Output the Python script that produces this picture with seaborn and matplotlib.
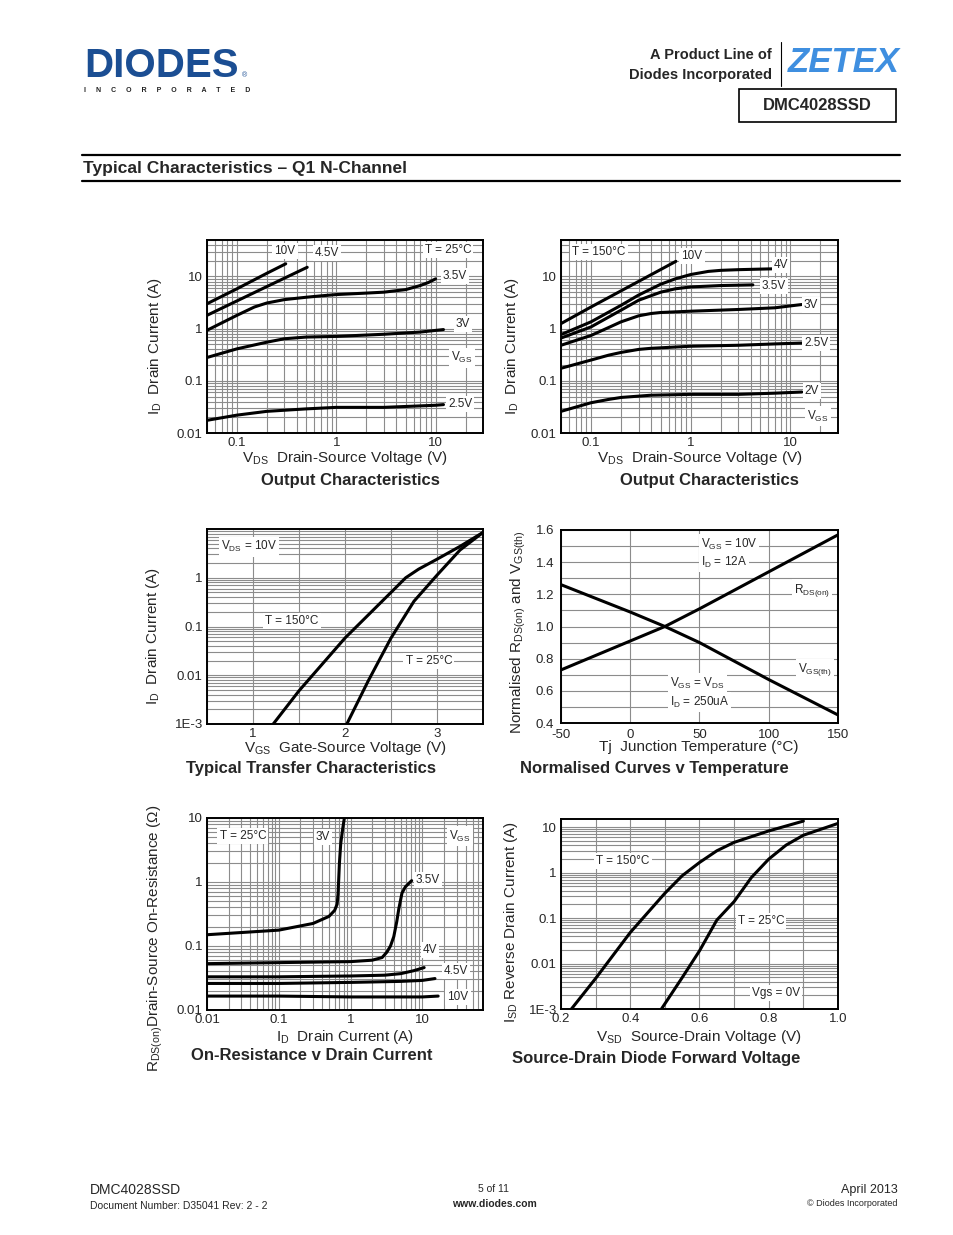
import numpy as np
import pandas as pd
import matplotlib
matplotlib.use("Agg")
import matplotlib.pyplot as plt
import matplotlib.ticker as mticker
from matplotlib.patches import Rectangle
from matplotlib.lines import Line2D
import seaborn as sns

# ---- data ----
# output characteristics, T = 25C  (VDS in V, ID in A)
o25_10v_x = [0.05, 0.1, 0.2, 0.31]
o25_10v_y = [3.0, 5.8, 11.5, 17.5]
o25_45v_x = [0.05, 0.1, 0.2, 0.51]
o25_45v_y = [1.8, 3.4, 6.4, 15.0]
o25_35v_x = [0.05, 0.1, 0.15, 0.2, 0.3, 0.5, 0.7, 1, 2, 3, 5, 7, 8.5, 10]
o25_35v_y = [0.93, 1.8, 2.6, 3.1, 3.6, 4.0, 4.25, 4.5, 4.8, 5.0, 5.6, 6.7, 7.7, 9.0]
o25_3v_x = [0.05, 0.1, 0.2, 0.3, 0.5, 1, 3, 7, 12]
o25_3v_y = [0.28, 0.41, 0.55, 0.64, 0.69, 0.71, 0.78, 0.86, 0.96]
o25_25v_x = [0.05, 0.1, 0.2, 0.5, 1, 3, 10, 12]
o25_25v_y = [0.0175, 0.022, 0.026, 0.029, 0.031, 0.031, 0.034, 0.035]

# output characteristics, T = 150C
o150_10v_x = [0.05, 0.1, 0.2, 0.4, 0.71]
o150_10v_y = [1.25, 2.6, 5.3, 10.8, 19.5]
o150_4v_x = [0.05, 0.1, 0.2, 0.3, 0.5, 0.7, 1, 1.5, 2, 3, 6.5]
o150_4v_y = [0.77, 1.35, 2.8, 4.4, 7.1, 9.0, 10.9, 12.5, 13.1, 13.5, 14.0]
o150_35v_x = [0.05, 0.1, 0.2, 0.3, 0.5, 0.7, 1, 2, 4.2]
o150_35v_y = [0.66, 1.08, 2.26, 3.5, 5.0, 5.8, 6.3, 6.7, 6.9]
o150_3v_x = [0.05, 0.1, 0.15, 0.2, 0.3, 0.4, 0.5, 1, 3, 7, 13]
o150_3v_y = [0.48, 0.74, 1.05, 1.35, 1.76, 1.95, 2.04, 2.16, 2.33, 2.51, 2.9]
o150_25v_x = [0.05, 0.1, 0.15, 0.2, 0.3, 0.4, 1, 3, 7, 13]
o150_25v_y = [0.174, 0.25, 0.31, 0.35, 0.40, 0.42, 0.46, 0.48, 0.51, 0.53]
o150_2v_x = [0.05, 0.1, 0.15, 0.2, 0.4, 1, 3, 7, 13]
o150_2v_y = [0.026, 0.038, 0.044, 0.048, 0.053, 0.055, 0.055, 0.058, 0.061]

# transfer characteristics (VGS in V, ID in A)
tr150_x = [1.22, 1.5, 2.0, 2.5, 2.66, 2.8, 3.0, 3.25, 3.5]
tr150_y = [0.001, 0.0048, 0.058, 0.5, 1.0, 1.5, 2.4, 4.4, 8.5]
tr25_x = [2.02, 2.25, 2.5, 2.75, 3.0, 3.25, 3.5]
tr25_y = [0.001, 0.0075, 0.058, 0.33, 1.13, 3.7, 8.5]

# normalised curves v temperature
tj = [-50, 0, 25, 50, 100, 150]
rds_norm = [0.73, 0.91, 1.0, 1.11, 1.34, 1.57]
vth_norm = [1.26, 1.09, 1.0, 0.90, 0.67, 0.45]

# on-resistance v drain current (ID in A, RDS in ohm)
r3v_x = [0.01, 0.1, 0.3, 0.5, 0.6, 0.65, 0.67, 0.7, 0.73, 0.78, 0.82]
r3v_y = [0.15, 0.177, 0.225, 0.29, 0.36, 0.45, 0.66, 2.0, 4.0, 7.0, 10.0]
r35v_x = [0.01, 0.1, 1, 2, 2.75, 3.2, 3.6, 4.0, 4.4, 4.7, 5.2, 5.8, 7.1]
r35v_y = [0.053, 0.055, 0.057, 0.06, 0.066, 0.08, 0.1, 0.14, 0.24, 0.38, 0.67, 0.84, 1.05]
r4v_x = [0.01, 0.1, 1, 3, 5, 7.5, 10.6]
r4v_y = [0.033, 0.033, 0.034, 0.035, 0.037, 0.041, 0.046]
r45v_x = [0.01, 0.1, 1, 5, 10, 15]
r45v_y = [0.026, 0.026, 0.027, 0.028, 0.029, 0.031]
r10v_x = [0.01, 0.1, 1, 10, 16.6]
r10v_y = [0.0165, 0.0165, 0.016, 0.016, 0.0165]

# source-drain diode forward voltage (VSD in V, ISD in A)
sd150_x = [0.23, 0.3, 0.4, 0.5, 0.55, 0.6, 0.65, 0.7, 0.8, 0.9]
sd150_y = [0.001, 0.0047, 0.048, 0.35, 0.85, 1.66, 3.0, 4.6, 8.2, 13.5]
sd25_x = [0.49, 0.55, 0.6, 0.65, 0.7, 0.75, 0.8, 0.85, 0.9, 1.0]
sd25_y = [0.001, 0.0049, 0.019, 0.09, 0.23, 0.78, 1.97, 4.0, 6.6, 12.0]

log_ticks = [0.001, 0.01, 0.1, 1, 10]
log_labels = ['1E-3', '0.01', '0.1', '1', '10']

# ---- style ----
sns.set_style("white")
plt.rcParams['font.family'] = ['Liberation Sans', 'DejaVu Sans']
plt.rcParams['mathtext.default'] = 'regular'
plt.rcParams['axes.unicode_minus'] = False

W, H = 954, 1235
fig = plt.figure(figsize=(W / 100, H / 100), dpi=100)
GRID = '#8c8c8c'
TICK_FS = 9.5
ANN_FS = 8.5
LAB_FS = 11
SUB_FS = 12


def px_axes(x0, y0, x1, y1):
    return fig.add_axes([x0 / W, 1 - y1 / H, (x1 - x0) / W, (y1 - y0) / H])


def ftext(x, y, s, **kw):
    fig.text(x / W, 1 - y / H, s, **kw)


def draw_curves(ax, curves):
    rows = []
    for name, xs, ys in curves:
        rows.append(pd.DataFrame({'x': xs, 'y': ys, 'curve': name}))
    df = pd.concat(rows, ignore_index=True)
    sns.lineplot(data=df, x='x', y='y', units='curve', estimator=None,
                 sort=False, color='black', linewidth=2.2, ax=ax, zorder=3)
    ax.set_xlabel('')
    ax.set_ylabel('')


def style_axes(ax):
    for s in ax.spines.values():
        s.set_linewidth(1.4)
        s.set_color('black')
        s.set_zorder(5)
    ax.tick_params(which='both', length=0, labelsize=TICK_FS, pad=3)
    ax.grid(True, which='both', color=GRID, linewidth=0.8)
    ax.set_axisbelow(True)


def log_axis(axis):
    axis.set_major_locator(mticker.FixedLocator(log_ticks))
    axis.set_major_formatter(mticker.FixedFormatter(log_labels))
    axis.set_minor_locator(mticker.LogLocator(base=10, subs=np.arange(2, 10), numticks=20))
    axis.set_minor_formatter(mticker.NullFormatter())


def ann(ax, fx, fy, s, ha='center'):
    ax.text(fx, fy, s, transform=ax.transAxes, ha=ha, va='center', fontsize=ANN_FS,
            zorder=4, bbox=dict(fc='white', ec='none', pad=1.5))


# ---- header ----
ftext(84, 77, 'DIODES', fontsize=29, fontweight='heavy', color='#1b4e93', va='baseline', ha='left')
ftext(242, 76, '\u00ae', fontsize=5, color='#1b4e93', va='center', ha='left')
ftext(84, 90, 'I     N     C     O     R     P     O     R     A     T     E     D', fontsize=5,
      fontweight='bold', color='#222222', va='center', ha='left')
ftext(772, 55, 'A Product Line of', fontsize=10.5, fontweight='bold', ha='right', va='center')
ftext(772, 75, 'Diodes Incorporated', fontsize=10.5, fontweight='bold', ha='right', va='center')
fig.add_artist(Line2D([781 / W, 781 / W], [1 - 42 / H, 1 - 86 / H], color='black', lw=0.8))
ftext(844, 62, 'ZETEX', fontsize=25, fontweight='bold', style='italic', color='#3f8fe0',
      ha='center', va='center')
fig.add_artist(Rectangle((739 / W, 1 - 122 / H), 157 / W, 33 / H, transform=fig.transFigure,
                         fill=False, ec='black', lw=1.2))
ftext(817, 106, 'DMC4028SSD', fontsize=12, fontweight='bold', ha='center', va='center')
fig.add_artist(Line2D([82 / W, 900 / W], [1 - 155 / H, 1 - 155 / H], color='black', lw=1.6))
fig.add_artist(Line2D([82 / W, 900 / W], [1 - 181 / H, 1 - 181 / H], color='black', lw=1.6))
ftext(83, 168, 'Typical Characteristics \u2013 Q1 N-Channel', fontsize=12.5,
      fontweight='bold', ha='left', va='center')

# ---- 1: output characteristics 25C ----
ax1 = px_axes(207, 240, 483, 433)
draw_curves(ax1, [('10V', o25_10v_x, o25_10v_y), ('4.5V', o25_45v_x, o25_45v_y),
                  ('3.5V', o25_35v_x, o25_35v_y), ('3V', o25_3v_x, o25_3v_y),
                  ('2.5V', o25_25v_x, o25_25v_y)])
ax1.set_xscale('log')
ax1.set_yscale('log')
ax1.set_xlim(0.05, 30)
ax1.set_ylim(0.01, 50)
log_axis(ax1.xaxis)
log_axis(ax1.yaxis)
style_axes(ax1)
ann(ax1, 0.283, 0.943, '10V')
ann(ax1, 0.435, 0.933, '4.5V')
ann(ax1, 0.873, 0.948, 'T = 25°C')
ann(ax1, 0.899, 0.813, '3.5V')
ann(ax1, 0.928, 0.565, '3V')
ann(ax1, 0.924, 0.389, r'V$_{GS}$')
ann(ax1, 0.917, 0.150, '2.5V')

# ---- 2: output characteristics 150C ----
ax2 = px_axes(561, 240, 838, 433)
draw_curves(ax2, [('10V', o150_10v_x, o150_10v_y), ('4V', o150_4v_x, o150_4v_y),
                  ('3.5V', o150_35v_x, o150_35v_y), ('3V', o150_3v_x, o150_3v_y),
                  ('2.5V', o150_25v_x, o150_25v_y), ('2V', o150_2v_x, o150_2v_y)])
ax2.set_xscale('log')
ax2.set_yscale('log')
ax2.set_xlim(0.05, 30)
ax2.set_ylim(0.01, 50)
log_axis(ax2.xaxis)
log_axis(ax2.yaxis)
style_axes(ax2)
ann(ax2, 0.137, 0.938, 'T = 150°C')
ann(ax2, 0.473, 0.917, '10V')
ann(ax2, 0.794, 0.870, '4V')
ann(ax2, 0.769, 0.762, '3.5V')
ann(ax2, 0.903, 0.663, '3V')
ann(ax2, 0.921, 0.466, '2.5V')
ann(ax2, 0.906, 0.218, '2V')
ann(ax2, 0.928, 0.088, r'V$_{GS}$')

# ---- 3: transfer characteristics ----
ax3 = px_axes(207, 529, 483, 724)
draw_curves(ax3, [('150', tr150_x, tr150_y), ('25', tr25_x, tr25_y)])
ax3.set_yscale('log')
ax3.set_xlim(0.5, 3.5)
ax3.set_ylim(0.001, 10)
ax3.yaxis.set_major_locator(mticker.FixedLocator(log_ticks[:4]))
ax3.yaxis.set_major_formatter(mticker.FixedFormatter(log_labels[:4]))
ax3.yaxis.set_minor_locator(mticker.LogLocator(base=10, subs=np.arange(2, 10), numticks=20))
ax3.yaxis.set_minor_formatter(mticker.NullFormatter())
ax3.xaxis.set_major_locator(mticker.FixedLocator([1, 2, 3]))
ax3.xaxis.set_minor_locator(mticker.MultipleLocator(0.5))
style_axes(ax3)
ann(ax3, 0.152, 0.908, r'V$_{DS}$ = 10V')
ann(ax3, 0.308, 0.528, 'T = 150°C')
ann(ax3, 0.804, 0.323, 'T = 25°C')

# ---- 4: normalised curves v temperature ----
ax4 = px_axes(561, 530, 838, 723)
draw_curves(ax4, [('rds', tj, rds_norm), ('vth', tj, vth_norm)])
ax4.set_xlim(-50, 150)
ax4.set_ylim(0.4, 1.6)
ax4.xaxis.set_major_locator(mticker.MultipleLocator(50))
ax4.yaxis.set_major_locator(mticker.MultipleLocator(0.2))
ax4.yaxis.set_minor_locator(mticker.MultipleLocator(0.1))
ax4.yaxis.set_major_formatter(mticker.FormatStrFormatter('%.1f'))
style_axes(ax4)
ax4.tick_params(axis='y', pad=5)
ax4.tick_params(axis='x', pad=4)
ann(ax4, 0.505, 0.927, r'V$_{GS}$ = 10V', ha='left')
ann(ax4, 0.505, 0.834, r'I$_{D}$ = 12A', ha='left')
ann(ax4, 0.906, 0.689, r'R$_{DS(on)}$')
ann(ax4, 0.917, 0.275, r'V$_{GS(th)}$')
ann(ax4, 0.394, 0.207, r'V$_{GS}$ = V$_{DS}$', ha='left')
ann(ax4, 0.394, 0.109, r'I$_{D}$ = 250uA', ha='left')

# ---- 5: on-resistance v drain current ----
ax5 = px_axes(207, 818, 483, 1010)
draw_curves(ax5, [('3V', r3v_x, r3v_y), ('3.5V', r35v_x, r35v_y), ('4V', r4v_x, r4v_y),
                  ('4.5V', r45v_x, r45v_y), ('10V', r10v_x, r10v_y)])
ax5.set_xscale('log')
ax5.set_yscale('log')
ax5.set_xlim(0.01, 70)
ax5.set_ylim(0.01, 10)
log_axis(ax5.xaxis)
log_axis(ax5.yaxis)
style_axes(ax5)
ann(ax5, 0.130, 0.906, 'T = 25°C')
ann(ax5, 0.420, 0.901, '3V')
ann(ax5, 0.917, 0.906, r'V$_{GS}$')
ann(ax5, 0.801, 0.677, '3.5V')
ann(ax5, 0.808, 0.313, '4V')
ann(ax5, 0.902, 0.203, '4.5V')
ann(ax5, 0.909, 0.068, '10V')

# ---- 6: source-drain diode forward voltage ----
ax6 = px_axes(561, 819, 838, 1009)
draw_curves(ax6, [('150', sd150_x, sd150_y), ('25', sd25_x, sd25_y)])
ax6.set_yscale('log')
ax6.set_xlim(0.2, 1.0)
ax6.set_ylim(0.001, 15)
log_axis(ax6.yaxis)
ax6.xaxis.set_major_locator(mticker.FixedLocator([0.2, 0.4, 0.6, 0.8, 1.0]))
ax6.xaxis.set_major_formatter(mticker.FormatStrFormatter('%.1f'))
ax6.xaxis.set_minor_locator(mticker.MultipleLocator(0.1))
style_axes(ax6)
ann(ax6, 0.224, 0.779, 'T = 150°C')
ann(ax6, 0.722, 0.463, 'T = 25°C')
ann(ax6, 0.776, 0.084, 'Vgs = 0V')

# ---- axis titles and captions ----
ylabs = [(155, 346, r'I$_{D}$  Drain Current (A)'),
         (512, 346, r'I$_{D}$  Drain Current (A)'),
         (153, 636, r'I$_{D}$  Drain Current (A)'),
         (518, 632, r'Normalised R$_{DS(on)}$ and V$_{GS(th)}$'),
         (155, 938, r'R$_{DS(on)}$Drain-Source On-Resistance ($\Omega$)'),
         (511, 922, r'I$_{SD}$ Reverse Drain Current (A)')]
for x, y, s in ylabs:
    ftext(x, y, s, rotation=90, ha='center', va='center', fontsize=LAB_FS)

xlabs = [(345, 458, r'V$_{DS}$  Drain-Source Voltage (V)'),
         (700, 458, r'V$_{DS}$  Drain-Source Voltage (V)'),
         (345, 748, r'V$_{GS}$  Gate-Source Voltage (V)'),
         (699, 747, r'Tj  Junction Temperature (°C)'),
         (345, 1037, r'I$_{D}$  Drain Current (A)'),
         (699, 1037, r'V$_{SD}$  Source-Drain Voltage (V)')]
for x, y, s in xlabs:
    ftext(x, y, s, ha='center', va='center', fontsize=LAB_FS)

subs = [(350, 480, 'Output Characteristics'),
        (709, 480, 'Output Characteristics'),
        (311, 768, 'Typical Transfer Characteristics'),
        (654, 768, 'Normalised Curves v Temperature'),
        (312, 1056, 'On-Resistance v Drain Current'),
        (656, 1059, 'Source-Drain Diode Forward Voltage')]
for x, y, s in subs:
    ftext(x, y, s, ha='center', va='center', fontsize=SUB_FS, fontweight='bold')

# ---- footer ----
ftext(90, 1190, 'DMC4028SSD', fontsize=10, ha='left', va='center')
ftext(90, 1206, 'Document Number: D35041 Rev: 2 - 2', fontsize=7.5, ha='left', va='center')
ftext(494, 1189, '5 of 11', fontsize=7.5, ha='center', va='center')
ftext(494, 1204, 'www.diodes.com', fontsize=7.5, fontweight='bold', ha='center', va='center')
ftext(898, 1190, 'April 2013', fontsize=9, ha='right', va='center')
ftext(898, 1204, '\u00a9 Diodes Incorporated', fontsize=6.5, ha='right', va='center')

fig.savefig('out.png', dpi=100, facecolor='white')
